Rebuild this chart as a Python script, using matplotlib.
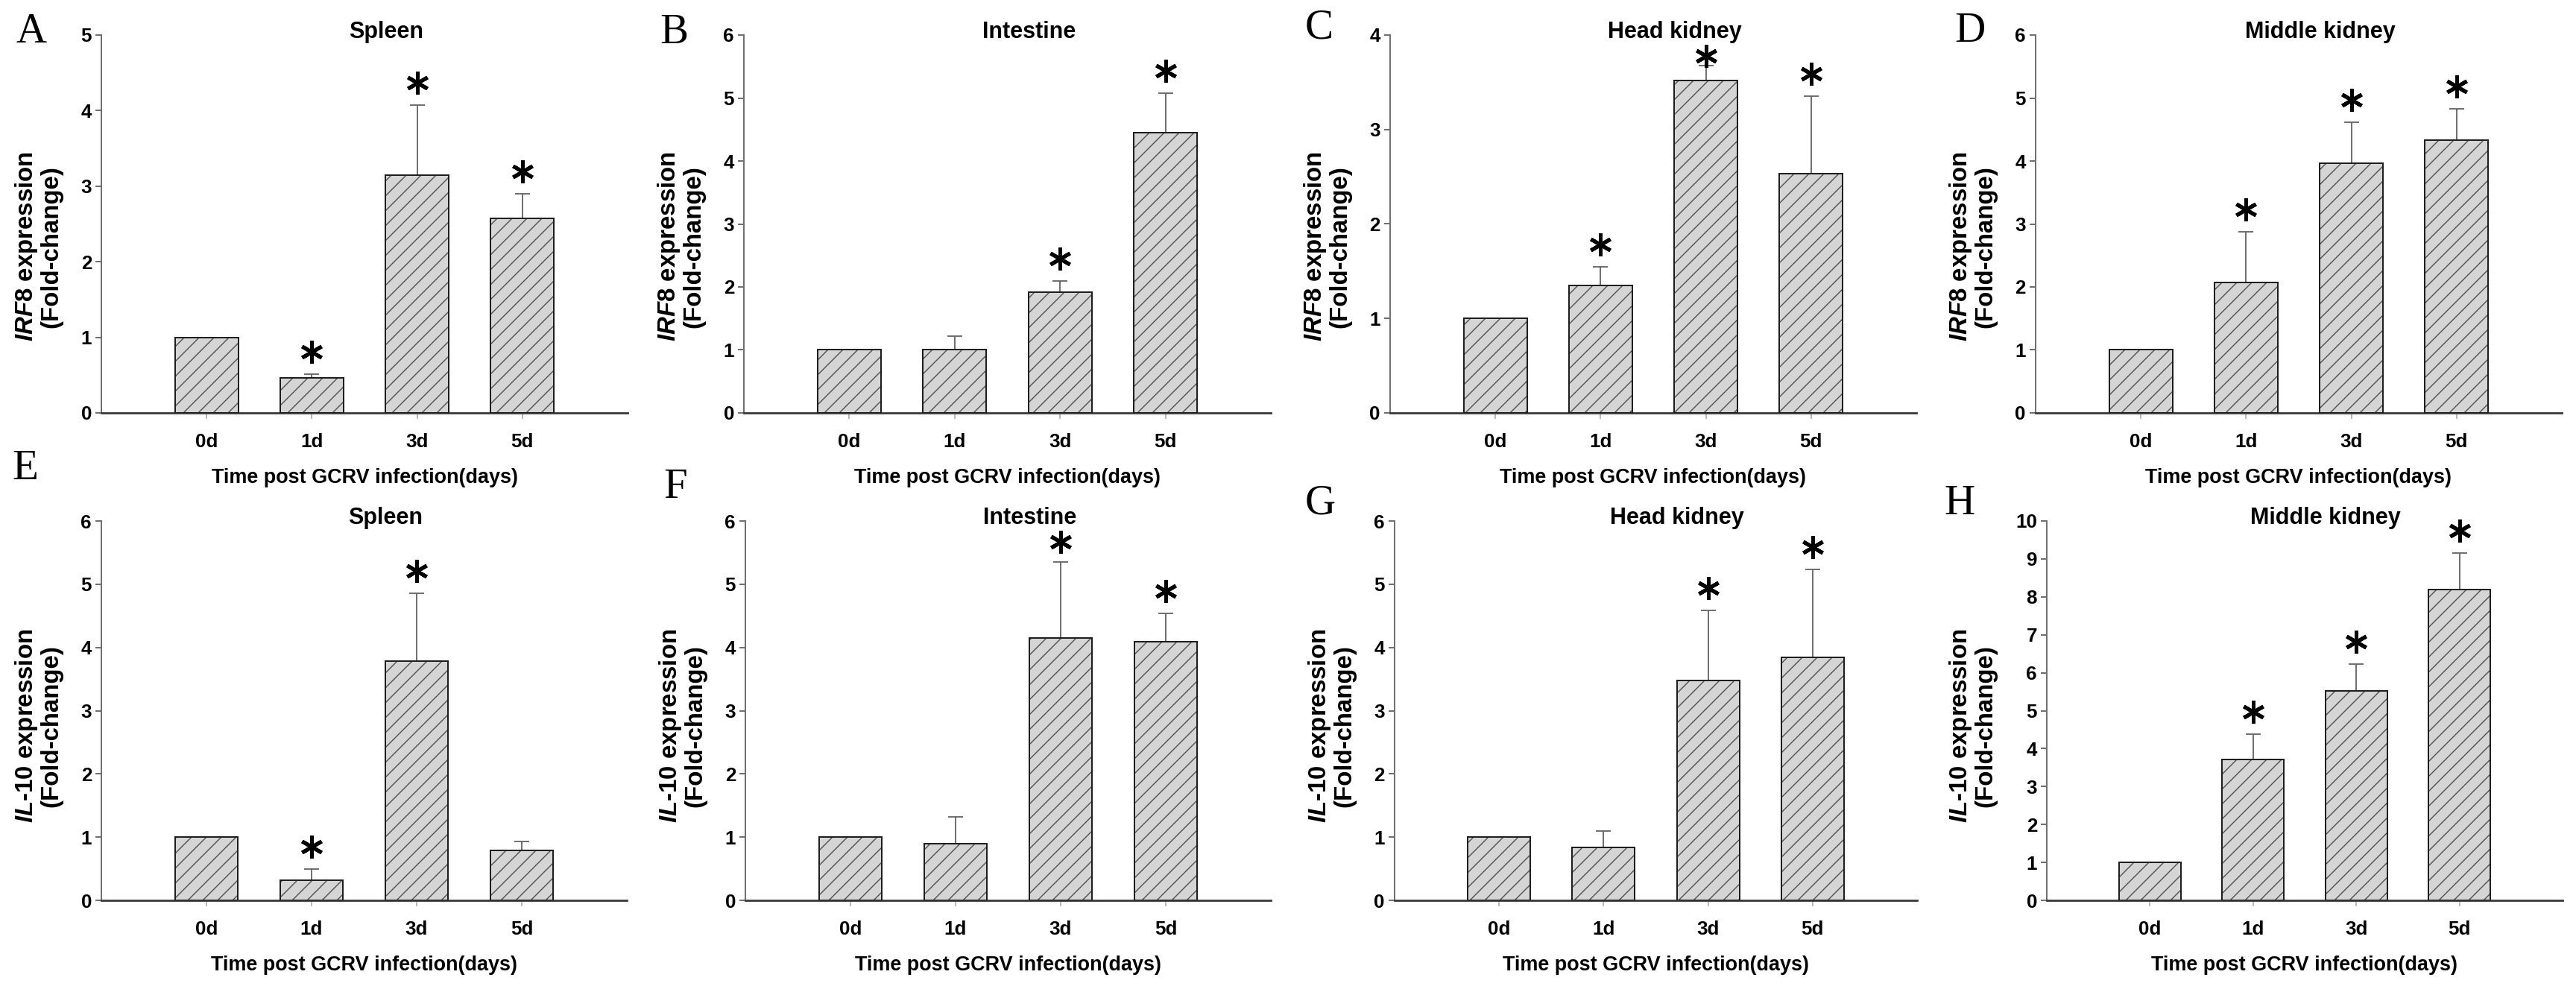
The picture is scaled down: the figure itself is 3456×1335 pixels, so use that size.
import matplotlib
matplotlib.use('Agg')
import matplotlib.pyplot as plt
from matplotlib.transforms import ScaledTranslation
from matplotlib.markers import MarkerStyle

DPI = 120
W, H = 3456, 1335
PT = 72.0 / DPI  # points per pixel

plt.rcParams['font.family'] = ['Liberation Sans', 'DejaVu Sans']
plt.rcParams['font.weight'] = 'bold'
plt.rcParams['mathtext.fontset'] = 'custom'
plt.rcParams['mathtext.it'] = 'Liberation Sans:italic:bold'
plt.rcParams['mathtext.rm'] = 'Liberation Sans:bold'
plt.rcParams['mathtext.bf'] = 'Liberation Sans:bold'
plt.rcParams['hatch.linewidth'] = 1.4 * PT

# ---------------- data ----------------
days = ['0d', '1d', '3d', '5d']
tissues = ['Spleen', 'Intestine', 'Head kidney', 'Middle kidney']
panel_letters = ['A', 'B', 'C', 'D', 'E', 'F', 'G', 'H']

irf8_spleen = [1.00, 0.46, 3.15, 2.57]
irf8_spleen_err = [0.00, 0.05, 0.92, 0.33]
irf8_spleen_sig = [0, 1, 1, 1]

irf8_intestine = [1.00, 1.00, 1.92, 4.45]
irf8_intestine_err = [0.00, 0.22, 0.18, 0.63]
irf8_intestine_sig = [0, 0, 1, 1]

irf8_headkidney = [1.00, 1.35, 3.52, 2.53]
irf8_headkidney_err = [0.00, 0.20, 0.16, 0.82]
irf8_headkidney_sig = [0, 1, 1, 1]

irf8_midkidney = [1.00, 2.07, 3.96, 4.33]
irf8_midkidney_err = [0.00, 0.80, 0.65, 0.50]
irf8_midkidney_sig = [0, 1, 1, 1]

il10_spleen = [1.00, 0.32, 3.78, 0.79]
il10_spleen_err = [0.00, 0.17, 1.08, 0.14]
il10_spleen_sig = [0, 1, 1, 0]

il10_intestine = [1.00, 0.90, 4.15, 4.09]
il10_intestine_err = [0.00, 0.42, 1.20, 0.45]
il10_intestine_sig = [0, 0, 1, 1]

il10_headkidney = [1.00, 0.84, 3.48, 3.84]
il10_headkidney_err = [0.00, 0.26, 1.10, 1.39]
il10_headkidney_sig = [0, 0, 1, 1]

il10_midkidney = [1.00, 3.72, 5.53, 8.20]
il10_midkidney_err = [0.00, 0.67, 0.69, 0.95]
il10_midkidney_sig = [0, 1, 1, 1]

y_max = [5, 6, 4, 6, 6, 6, 6, 10]
genes = ['IRF8', 'IRF8', 'IRF8', 'IRF8', 'IL-10', 'IL-10', 'IL-10', 'IL-10']

means = [irf8_spleen, irf8_intestine, irf8_headkidney, irf8_midkidney,
         il10_spleen, il10_intestine, il10_headkidney, il10_midkidney]
errs = [irf8_spleen_err, irf8_intestine_err, irf8_headkidney_err, irf8_midkidney_err,
        il10_spleen_err, il10_intestine_err, il10_headkidney_err, il10_midkidney_err]
sigs = [irf8_spleen_sig, irf8_intestine_sig, irf8_headkidney_sig, irf8_midkidney_sig,
        il10_spleen_sig, il10_intestine_sig, il10_headkidney_sig, il10_midkidney_sig]

# ---------------- layout (pixels) ----------------
rows_px = [(47, 554), (699, 1208)]
cols_px = [[(136, 842), (998, 1705), (1865, 2571), (2731, 3437)],
           [(136, 841), (1000, 1705), (1871, 2572), (2746, 3438)]]
letter_pos = [(22, 57), (885, 58), (1751, 51), (2622, 56),
              (16, 643), (890, 668), (1751, 689), (2608, 690)]

fig = plt.figure(figsize=(W / DPI, H / DPI), dpi=DPI)

fill_col = '#d5d5d5'
hatch_col = '#505050'
edge_col = '#1e1e1e'


def pix(dx, dy):
    return ScaledTranslation(dx / DPI, dy / DPI, fig.dpi_scale_trans)


def fs(px):
    return px * PT


for i in range(8):
    r, c = divmod(i, 4)
    top, bot = rows_px[r]
    left, right = cols_px[r][c]
    ax = fig.add_axes([left / W, 1 - bot / H, (right - left) / W, (bot - top) / H])
    x = list(range(len(days)))
    m = means[i]
    e = errs[i]
    ymax = y_max[i]

    # bars: hatched fill, then outline
    ax.bar(x, m, width=0.6, color=fill_col, edgecolor=hatch_col, linewidth=0,
           hatch='//', zorder=2)
    ax.bar(x, m, width=0.6, fill=False, edgecolor=edge_col, linewidth=2.0 * PT, zorder=3)

    # upper error bars only
    xe = [xi for xi, ei in zip(x, e) if ei > 0]
    me = [mi for mi, ei in zip(m, e) if ei > 0]
    ee = [ei for ei in e if ei > 0]
    ax.errorbar(xe, me, yerr=[[0] * len(ee), ee], fmt='none', ecolor='#626262',
                elinewidth=1.8 * PT, capsize=10 * PT, capthick=1.8 * PT, zorder=1.5)

    # significance asterisks
    height_px = bot - top
    star = MarkerStyle((6, 2, 0), capstyle='round')
    for xi, mi, ei, s in zip(x, m, e, sigs[i]):
        if not s:
            continue
        cap = mi + ei
        cap_px = top + (ymax - cap) / ymax * height_px
        off = 30
        if xi in (1, 2):
            limit = top + 28
            if cap_px - off < limit:
                off = cap_px - limit
        ax.plot([xi], [cap], linestyle='none', marker=star, markersize=30 * PT,
                markeredgewidth=5.0 * PT, color='black', zorder=5, clip_on=False,
                transform=ax.transData + pix(0, off))

    ax.set_xlim(-1, 4)
    ax.set_ylim(0, ymax)
    ax.set_yticks(range(0, ymax + 1))
    ax.set_xticks(x)
    ax.set_xticklabels(days)

    for sp in ('top', 'right'):
        ax.spines[sp].set_visible(False)
    ax.spines['left'].set_color('#707070')
    ax.spines['left'].set_linewidth(2.0 * PT)
    ax.spines['bottom'].set_color('#3a3a3a')
    ax.spines['bottom'].set_linewidth(2.8 * PT)

    ax.tick_params(axis='y', direction='out', length=8 * PT, width=2 * PT,
                   color='#707070', pad=5 * PT, labelsize=fs(26), labelcolor='black')
    ax.tick_params(axis='x', direction='out', length=8 * PT, width=1.6 * PT,
                   color='#a8a8a8', pad=19 * PT, labelsize=fs(26), labelcolor='black')
    for lab in ax.get_xticklabels() + ax.get_yticklabels():
        lab.set_fontweight('bold')

    # title
    ax.text(0.541, 1.0, tissues[c], transform=ax.transAxes + pix(0, -4),
            ha='center', va='baseline', fontsize=fs(30.5), fontweight='bold')

    # x label
    ax.text(0.5, 0.0, 'Time post GCRV infection(days)',
            transform=ax.transAxes + pix(0, -87), ha='center', va='center',
            fontsize=fs(27), fontweight='bold')

    # y label
    g = genes[i]
    if g == 'IRF8':
        yl = r'$\mathit{IRF8}$ expression' + '\n(Fold-change)'
    else:
        yl = r'$\mathit{IL}$-$\mathit{10}$ expression' + '\n(Fold-change)'
    ndig = len(str(ymax))
    yoff = -85 - 15 * (ndig - 1)
    yfrac = 0.44 if r == 0 else 0.46
    ax.text(0.0, yfrac, yl, transform=ax.transAxes + pix(yoff, 0), rotation=90,
            ha='center', va='center', multialignment='center', fontsize=fs(33),
            fontweight='bold', linespacing=1.0)

# panel letters
for L, (lx, ly) in zip(panel_letters, letter_pos):
    fig.text(lx / W, 1 - ly / H, L, ha='left', va='baseline',
             fontsize=fs(57), fontweight='normal', family='Liberation Serif')

fig.savefig('out.png', dpi=DPI, facecolor='white')
